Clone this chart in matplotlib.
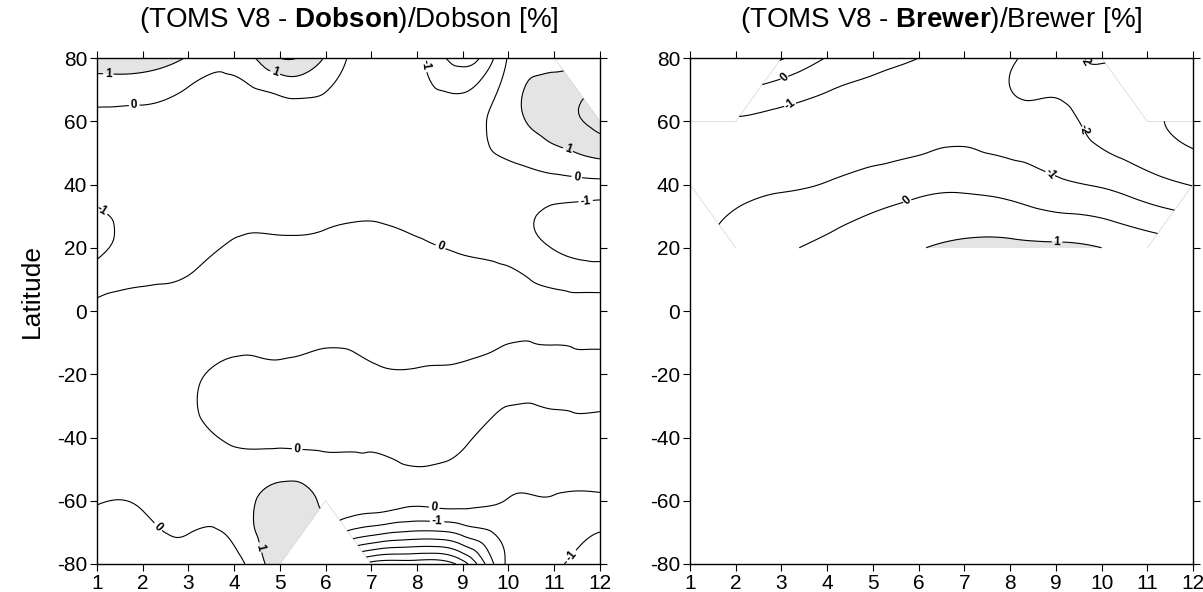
import numpy as np
import matplotlib.pyplot as plt
import matplotlib.tri as mtri

plt.rcParams['font.family'] = ['Liberation Sans', 'DejaVu Sans']
plt.rcParams['mathtext.fontset'] = 'custom'
plt.rcParams['mathtext.rm'] = 'Liberation Sans'
plt.rcParams['mathtext.bf'] = 'Liberation Sans:bold'
plt.rcParams['axes.unicode_minus'] = False

nan = np.nan
months = np.arange(1, 13)
lats = np.array([-80, -60, -40, -20, 0, 20, 40, 60, 80])

# (TOMS V8 - Dobson)/Dobson [%], rows = lats (south -> north), cols = months
dobson = np.array([
    [-0.8, -0.7, -0.5, -0.5, 1.6, nan, -6.4, -6.6, -5.5, -0.8, -0.8, -1.5],
    [0.05, 0.1, 0.4, 0.5, 1.4, 0.85, 0.5, 0.2, 0.3, -0.05, -0.1, -0.25],
    [0.4, 0.4, 0.3, -0.15, -0.3, -0.4, -0.4, -0.8, -0.3, 0.5, 0.5, 0.6],
    [0.5, 0.5, 0.25, -0.3, -0.3, -0.6, -0.25, -0.15, -0.2, -0.3, -0.35, -0.4],
    [0.3, 0.4, 0.4, 0.6, 0.6, 0.6, 0.6, 0.5, 0.4, 0.4, 0.3, 0.35],
    [-1.2, -0.6, -0.3, 0.1, 0.15, 0.25, 0.35, 0.15, -0.1, -0.4, -1.05, -1.4],
    [-0.6, -0.5, -0.5, -0.4, -0.6, -0.5, -0.4, -0.5, -0.4, -0.5, -0.4, -0.3],
    [-0.2, -0.25, -0.5, -0.7, -0.7, -0.5, -0.5, -0.5, -0.5, 0.6, 1.5, 2.3],
    [1.6, 1.6, 0.9, 0.3, 2.0, 0.9, -0.7, -0.8, -2.5, 0.1, 0.5, nan],
])

# (TOMS V8 - Brewer)/Brewer [%]
brewer = np.array([
    [nan] * 12,
    [nan] * 12,
    [nan] * 12,
    [nan] * 12,
    [nan] * 12,
    [nan, -0.7, -0.15, 0.25, 0.6, 0.95, 1.2, 1.25, 1.2, 1.0, 0.6, nan],
    [-1.3, -1.2, -1.1, -0.95, -0.6, -0.3, -0.2, -0.4, -0.8, -1.1, -1.6, -2.05],
    [-1.15, -1.1, -1.25, -1.4, -1.5, -1.6, -1.4, -1.7, -1.8, -2.3, -2.8, -3.3],
    [nan, nan, 1.1, -0.05, -0.6, -1.0, -1.6, -1.9, -2.2, -1.9, nan, nan],
])

titles = [r'(TOMS V8 - $\mathbf{Dobson}$)/Dobson [%]',
          r'(TOMS V8 - $\mathbf{Brewer}$)/Brewer [%]']
levels = np.arange(-7, 4)
label_levels = [[-1, 0, 1], [-2, -1, 0, 1]]


def build(field):
    X, Y = np.meshgrid(months, lats)
    ok = ~np.isnan(field)
    idx = -np.ones(field.shape, int)
    idx[ok] = np.arange(ok.sum())
    tris = []
    for j in range(len(lats) - 1):
        for i in range(len(months) - 1):
            c = [(j, i), (j, i + 1), (j + 1, i + 1), (j + 1, i)]
            have = [ok[p] for p in c]
            if all(have):
                tris.append([idx[c[0]], idx[c[1]], idx[c[2]]])
                tris.append([idx[c[0]], idx[c[2]], idx[c[3]]])
            elif sum(have) == 3:
                tris.append([idx[p] for p, h in zip(c, have) if h])
    x = X[ok].astype(float)
    y = Y[ok].astype(float)
    z = field[ok]
    # interpolate in grid units so both directions are weighted alike
    tri_n = mtri.Triangulation(x, y / 20.0, np.array(tris))
    interp = mtri.CubicTriInterpolator(tri_n, z, kind='min_E')
    tri_r, z_r = mtri.UniformTriRefiner(tri_n).refine_field(z, triinterpolator=interp, subdiv=4)
    tri_p = mtri.Triangulation(tri_r.x, tri_r.y * 20.0, tri_r.triangles)
    tri_o = mtri.Triangulation(x, y, np.array(tris))
    return tri_o, tri_p, z_r


fig = plt.figure(figsize=(12.03, 5.92), dpi=100)
axes = [fig.add_axes([0.0806, 0.0473, 0.4181, 0.8547]),
        fig.add_axes([0.5736, 0.0473, 0.4181, 0.8547])]

for ax, field, title, lab in zip(axes, [dobson, brewer], titles, label_levels):
    tri_o, tri_p, z_r = build(field)
    ax.tricontourf(tri_p, z_r, levels=[1, 50], colors=['#e4e4e4'])
    cs = ax.tricontour(tri_p, z_r, levels=levels, colors='k', linewidths=0.8,
                       linestyles='solid')
    for t in ax.clabel(cs, lab, fmt='%d', fontsize=8.5, inline=True, inline_spacing=2):
        t.set_fontweight('bold')
    # faint outline of the data area (not along its lowest row)
    ymin = tri_o.y.min()
    for t, nb in zip(tri_o.triangles, tri_o.neighbors):
        for k in range(3):
            if nb[k] == -1:
                a, b = t[k], t[(k + 1) % 3]
                if tri_o.y[a] == ymin and tri_o.y[b] == ymin:
                    continue
                ax.plot([tri_o.x[a], tri_o.x[b]], [tri_o.y[a], tri_o.y[b]],
                        color='#dcdcdc', lw=0.6, zorder=1)
    ax.set_xlim(1, 12)
    ax.set_ylim(-80, 80)
    ax.set_xticks(months)
    ax.set_yticks(np.arange(-80, 81, 20))
    ax.tick_params(direction='out', length=5, width=0.8, labelsize=15,
                   top=True, right=True, pad=2)
    for s in ax.spines.values():
        s.set_linewidth(1.0)
    ax.set_title(title, fontsize=20, pad=22)

axes[0].set_ylabel('Latitude', fontsize=19)
axes[0].yaxis.set_label_coords(-0.105, 0.54)

plt.savefig('out.png', dpi=100)
